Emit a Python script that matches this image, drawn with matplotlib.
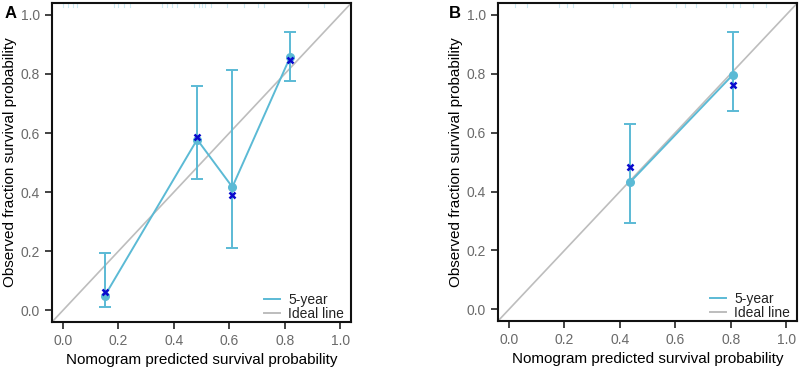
import matplotlib
matplotlib.use("Agg")
import matplotlib.pyplot as plt
from matplotlib.lines import Line2D

plt.rcParams['font.family'] = ['Liberation Sans', 'DejaVu Sans']

# Panel A data (5-year calibration)
a_pred = [0.15, 0.484, 0.611, 0.819]
a_obs = [0.048, 0.578, 0.417, 0.856]
a_corr = [0.062, 0.587, 0.389, 0.847]
a_low = [0.011, 0.443, 0.212, 0.777]
a_high = [0.192, 0.760, 0.813, 0.943]
a_rug = [0.001, 0.019, 0.035, 0.05, 0.182, 0.20, 0.219, 0.243, 0.357, 0.376,
         0.394, 0.412, 0.472, 0.49, 0.502, 0.514, 0.533, 0.593, 0.653, 0.702,
         0.726, 0.883, 0.943]

# Panel B data
b_pred = [0.436, 0.808]
b_obs = [0.431, 0.797]
b_corr = [0.482, 0.762]
b_low = [0.292, 0.673]
b_high = [0.628, 0.941]
b_rug = [0.02, 0.064, 0.18, 0.21, 0.232, 0.376, 0.406, 0.436, 0.604, 0.635,
         0.676, 0.784, 0.808, 0.832, 0.88, 0.928]

ticks = [0.0, 0.2, 0.4, 0.6, 0.8, 1.0]
tick_labels = ["0.0", "0.2", "0.4", "0.6", "0.8", "1.0"]

LINE = "#5BBAD5"
XCOL = "#0A0ACD"
GRAY = "#BDBDBD"

fig = plt.figure(figsize=(8, 3.67), dpi=100)
axA = fig.add_axes([0.065, 0.1226, 0.374, 0.869])
axB = fig.add_axes([0.6225, 0.1253, 0.374, 0.866])

def draw(ax, pred, obs, corr, low, high, rug):
    lo, hi = -0.04, 1.04
    ax.set_xlim(lo, hi)
    ax.set_ylim(lo, hi)
    ax.plot([lo, hi], [lo, hi], color=GRAY, lw=1.2, zorder=1)
    yerr = [[o - l for o, l in zip(obs, low)], [h - o for o, h in zip(obs, high)]]
    ax.errorbar(pred, obs, yerr=yerr, fmt='none', ecolor=LINE, elinewidth=1.4,
                capsize=4, capthick=1.4, zorder=2)
    ax.plot(pred, obs, color=LINE, lw=1.4, marker='o', ms=5.5, mfc=LINE, mec=LINE, zorder=3)
    ax.plot(pred, corr, linestyle='none', marker='x', ms=5, mew=1.8, color=XCOL, zorder=4)
    for r in rug:
        ax.plot([r, r], [hi, hi - 0.012], color="#CBE9F2", lw=0.8, zorder=1)
    ax.set_xticks(ticks)
    ax.set_xticklabels(tick_labels)
    ax.set_yticks(ticks)
    ax.set_yticklabels(tick_labels)
    ax.tick_params(direction='out', length=5, width=1.2, color='#222222',
                   labelcolor='#6a6a6a', labelsize=10)
    for s in ax.spines.values():
        s.set_linewidth(1.5)
        s.set_color('#111111')
    ax.set_xlabel("Nomogram predicted survival probability", fontsize=11, labelpad=4)
    ax.set_ylabel("Observed fraction survival probability", fontsize=11)
    ax.yaxis.set_label_coords(-0.118, 0.5)
    handles = [Line2D([0], [0], color=LINE, lw=1.4), Line2D([0], [0], color=GRAY, lw=1.4)]
    ax.legend(handles, ["5-year", "Ideal line"], loc='lower right', frameon=False,
              fontsize=10, handlelength=1.1, handletextpad=0.6, labelspacing=0.0,
              borderaxespad=0.0, borderpad=0.2, bbox_to_anchor=(0.985, -0.006),
              labelcolor='#222222')

draw(axA, a_pred, a_obs, a_corr, a_low, a_high, a_rug)
draw(axB, b_pred, b_obs, b_corr, b_low, b_high, b_rug)

fig.text(0.006, 0.985, "A", fontsize=12, fontweight='bold', va='top', ha='left')
fig.text(0.561, 0.985, "B", fontsize=12, fontweight='bold', va='top', ha='left')

fig.savefig("out.png", dpi=100)
